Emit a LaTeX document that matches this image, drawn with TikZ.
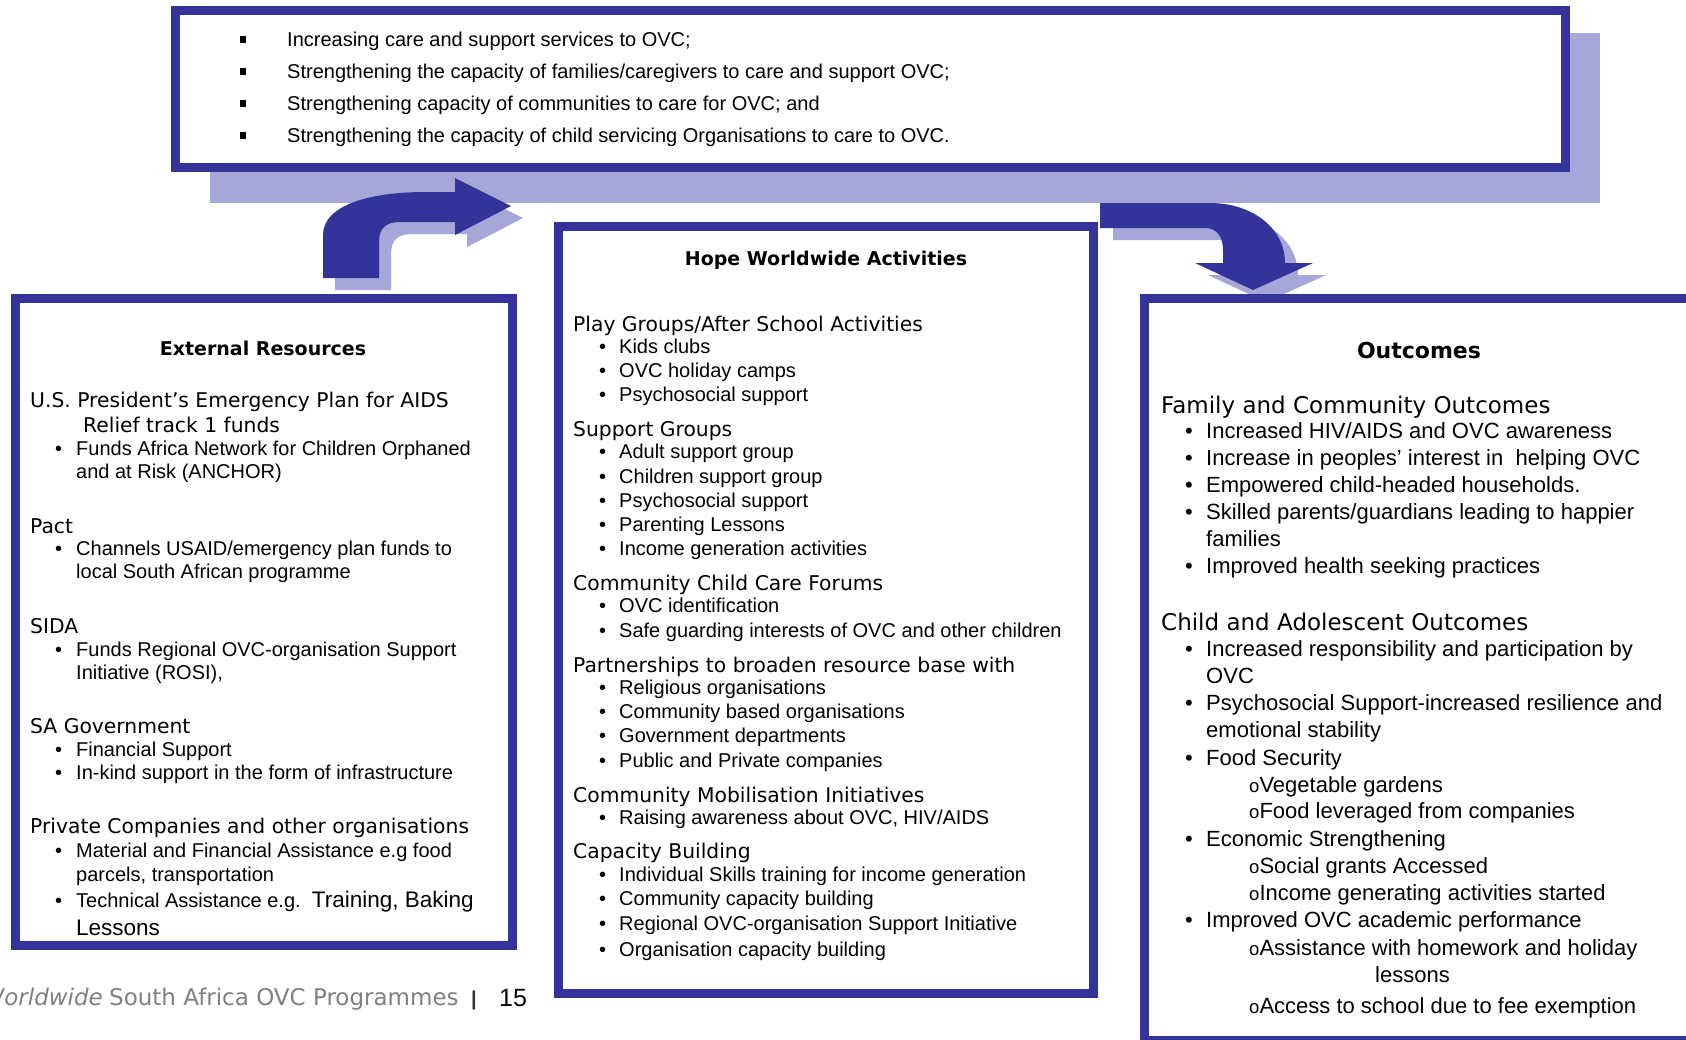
\documentclass[tikz,border=0pt]{standalone}
\usepackage{fontspec}
\setmainfont{Liberation Sans}
\newfontfamily\headf{DejaVu Sans}
\newfontfamily\itemf{Liberation Sans}
\definecolor{ovcblue}{RGB}{51,51,153}
\definecolor{shadowc}{RGB}{166,166,216}
\definecolor{footgray}{RGB}{128,128,128}
\newcommand\larrpath{(323,278) -- (323,235) .. controls (323,205) and (370,192) .. (425,192) -- (455,192) -- (455,178) -- (511,206) -- (455,235) -- (455,222) -- (400,222) .. controls (386,222) and (379,228) .. (379,242) -- (379,278) -- cycle}
\newcommand\rarrpath{(1100,203) -- (1210,203) .. controls (1252,203) and (1285,228) .. (1285,263) -- (1313,263) -- (1253,290) -- (1195,263) -- (1223,263) -- (1223,250) .. controls (1223,236) and (1216,228) .. (1205,228) -- (1100,228) -- cycle}
% heading line: style, name, x, y, text
\newcommand\hdl[5]{\node[#1] (#2) at (#3,#4) {#5};}
% bullet line: style, name, xbullet, xtext, y, text
\newcommand\bll[6]{\node[#1] (#2b) at (#3,#5) {•}; \node[#1] (#2) at (#4,#5) {#6};}
\newcommand\circb{{\fontsize{18.5}{20}\selectfont o}}
\begin{document}
\begin{tikzpicture}[x=1pt,y=-1pt,
  hd/.style={anchor=base west, inner sep=0pt, font=\headf\fontsize{20.3}{24}\selectfont},
  it/.style={anchor=base west, inner sep=0pt, font=\itemf\fontsize{20}{24}\selectfont},
  rhd/.style={anchor=base west, inner sep=0pt, font=\headf\fontsize{23}{27}\selectfont},
  rit/.style={anchor=base west, inner sep=0pt, font=\itemf\fontsize{22}{26}\selectfont},
  ttl/.style={anchor=base, inner sep=0pt, font=\headf\bfseries\fontsize{19}{23}\selectfont},
  topt/.style={anchor=base west, inner sep=0pt, font=\itemf\fontsize{20}{24}\selectfont},
  sqb/.style={fill=black, inner sep=0pt, minimum width=6pt, minimum height=6.5pt},
  obox/.style={draw=ovcblue, line width=9pt, fill=white, inner sep=0pt},
  foot/.style={inner sep=0pt, font=\headf\fontsize{23}{27}\selectfont, text=footgray}]
\useasboundingbox (0,0) rectangle (1686,1039);
\clip (0,0) rectangle (1686,1039);
\fill[white] (0,0) rectangle (1686,1039);

% shadows
\fill[shadowc] (210,33) rectangle (1600,203);
\begin{scope}[shift={(12,12)}]
  \fill[shadowc] \larrpath;
\end{scope}
\begin{scope}[shift={(13,12)}]
  \fill[shadowc] \rarrpath;
\end{scope}

% top box
\node[obox, minimum width=1390pt, minimum height=157pt] (topbox) at (870.5,89) {};
\node[sqb] (s1) at (243,39.5) {};
\node[sqb] (s2) at (243,71.5) {};
\node[sqb] (s3) at (243,103.5) {};
\node[sqb] (s4) at (243,135.5) {};
\hdl{topt}{t1}{287}{46}{Increasing care and support services to OVC;}
\hdl{topt}{t2}{287}{78}{Strengthening the capacity of families/caregivers to care and support OVC;}
\hdl{topt}{t3}{287}{110}{Strengthening capacity of communities to care for OVC; and}
\hdl{topt}{t4}{287}{142}{Strengthening the capacity of child servicing Organisations to care to OVC.}

% arrows
\fill[ovcblue] \larrpath;
\fill[ovcblue] \rarrpath;

% left box
\node[obox, minimum width=497pt, minimum height=647pt] (leftbox) at (264,622) {};
\hdl{ttl}{lt}{263}{355}{External Resources}
\hdl{hd}{l1}{30}{407}{U.S. President’s Emergency Plan for AIDS}
\hdl{hd}{l2}{83}{432}{Relief track 1 funds}
\bll{it}{l3}{55}{76}{455}{Funds Africa Network for Children Orphaned}
\hdl{it}{l4}{76}{478}{and at Risk (ANCHOR)}
\hdl{hd}{l5}{30}{533}{Pact}
\bll{it}{l6}{55}{76}{555}{Channels USAID/emergency plan funds to}
\hdl{it}{l7}{76}{578}{local South African programme}
\hdl{hd}{l8}{30}{633}{SIDA}
\bll{it}{l9}{55}{76}{656}{Funds Regional OVC-organisation Support}
\hdl{it}{l10}{76}{679}{Initiative (ROSI),}
\hdl{hd}{l11}{30}{733}{SA Government}
\bll{it}{l12}{55}{76}{756}{Financial Support}
\bll{it}{l13}{55}{76}{779}{In-kind support in the form of infrastructure}
\hdl{hd}{l14}{30}{833}{Private Companies and other organisations}
\bll{it}{l15}{55}{76}{857}{Material and Financial Assistance e.g food}
\hdl{it}{l16}{76}{881}{parcels, transportation}
\bll{it}{l17}{55}{76}{907}{Technical Assistance e.g.\ \ {\fontsize{22.5}{26}\selectfont Training, Baking}}
\hdl{it}{l18}{76}{935}{\fontsize{22.5}{26}\selectfont Lessons}

% middle box
\node[obox, minimum width=535pt, minimum height=767pt] (midbox) at (826,610) {};
\hdl{ttl}{mt}{826}{265}{Hope Worldwide Activities}
\hdl{hd}{m1}{573}{331}{Play Groups/After School Activities}
\bll{it}{m2}{599}{619}{353}{Kids clubs}
\bll{it}{m3}{599}{619}{377}{OVC holiday camps}
\bll{it}{m4}{599}{619}{401}{Psychosocial support}
\hdl{hd}{m5}{573}{436}{Support Groups}
\bll{it}{m6}{599}{619}{458}{Adult support group}
\bll{it}{m7}{599}{619}{483}{Children support group}
\bll{it}{m8}{599}{619}{507}{Psychosocial support}
\bll{it}{m9}{599}{619}{531}{Parenting Lessons}
\bll{it}{m10}{599}{619}{555}{Income generation activities}
\hdl{hd}{m11}{573}{590}{Community Child Care Forums}
\bll{it}{m12}{599}{619}{612}{OVC identification}
\bll{it}{m13}{599}{619}{637}{Safe guarding interests of OVC and other children}
\hdl{hd}{m14}{573}{672}{Partnerships to broaden resource base with}
\bll{it}{m15}{599}{619}{694}{Religious organisations}
\bll{it}{m16}{599}{619}{718}{Community based organisations}
\bll{it}{m17}{599}{619}{742}{Government departments}
\bll{it}{m18}{599}{619}{767}{Public and Private companies}
\hdl{hd}{m19}{573}{802}{Community Mobilisation Initiatives}
\bll{it}{m20}{599}{619}{824}{Raising awareness about OVC, HIV/AIDS}
\hdl{hd}{m21}{573}{858}{Capacity Building}
\bll{it}{m22}{599}{619}{881}{Individual Skills training for income generation}
\bll{it}{m23}{599}{619}{905}{Community capacity building}
\bll{it}{m24}{599}{619}{930}{Regional OVC-organisation Support Initiative}
\bll{it}{m25}{599}{619}{956}{Organisation capacity building}

% right box
\node[obox, minimum width=575.5pt, minimum height=741.5pt] (rightbox) at (1432.25,669.25) {};
\node[ttl, font=\headf\bfseries\fontsize{22}{26}\selectfont] (rt) at (1419,358) {Outcomes};
\hdl{rhd}{r1}{1161}{413}{Family and Community Outcomes}
\bll{rit}{r2}{1185}{1206}{438}{Increased HIV/AIDS and OVC awareness}
\bll{rit}{r3}{1185}{1206}{465}{Increase in peoples’ interest in\ \ helping OVC}
\bll{rit}{r4}{1185}{1206}{492}{Empowered child-headed households.}
\bll{rit}{r5}{1185}{1206}{519}{Skilled parents/guardians leading to happier}
\hdl{rit}{r6}{1206}{546}{families}
\bll{rit}{r7}{1185}{1206}{573}{Improved health seeking practices}
\hdl{rhd}{r8}{1161}{630}{Child and Adolescent Outcomes}
\bll{rit}{r9}{1185}{1206}{656}{Increased responsibility and participation by}
\hdl{rit}{r10}{1206}{683}{OVC}
\bll{rit}{r11}{1185}{1206}{710}{Psychosocial Support-increased resilience and}
\hdl{rit}{r12}{1206}{737}{emotional stability}
\bll{rit}{r13}{1185}{1206}{765}{Food Security}
\hdl{rit}{r14}{1249}{792}{\circb Vegetable gardens}
\hdl{rit}{r15}{1249}{818}{\circb Food leveraged from companies}
\bll{rit}{r16}{1185}{1206}{846}{Economic Strengthening}
\hdl{rit}{r17}{1249}{873}{\circb Social grants Accessed}
\hdl{rit}{r18}{1249}{900}{\circb Income generating activities started}
\bll{rit}{r19}{1185}{1206}{927}{Improved OVC academic performance}
\hdl{rit}{r20}{1249}{955}{\circb Assistance with homework and holiday}
\hdl{rit}{r21}{1375}{982}{lessons}
\hdl{rit}{r22}{1249}{1013}{\circb Access to school due to fee exemption}

% footer
\node[foot, anchor=base east] (fw) at (103,1005) {\itshape Worldwide};
\node[foot, anchor=base west] (fs) at (109,1005) {South Africa OVC Programmes};
\node[anchor=base, inner sep=0pt, font=\itemf\bfseries\fontsize{20}{24}\selectfont, text=black!80] (fbar) at (474,1005) {|};
\node[anchor=base west, inner sep=0pt, font=\itemf\fontsize{25}{29}\selectfont] (fpage) at (499,1006) {15};
\end{tikzpicture}
\end{document}
